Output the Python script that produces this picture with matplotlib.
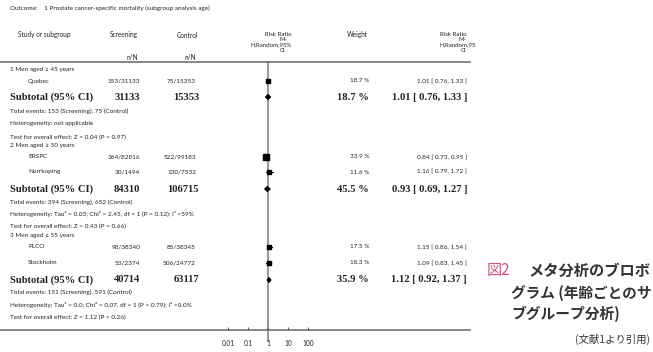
import matplotlib
matplotlib.use("Agg")
import matplotlib.pyplot as plt
import numpy as np
from matplotlib.transforms import Bbox, TransformedBbox

# ---------------- data ----------------
outcome = "Outcome:    1 Prostate cancer-specific mortality (subgroup analysis age)"
group_titles = ["1 Men aged \u2265 45 years", "2 Men aged \u2265 50 years", "3 Men aged \u2265 55 years"]
study_names = [["Quebec"], ["ERSPC", "Norrkoping"], ["PLCO", "Stockholm"]]
scr_events = [[153], [364, 30], [98, 53]]
scr_total = [[31133], [82816, 1494], [38340, 2374]]
ctl_events = [[75], [522, 130], [85, 506]]
ctl_total = [[15353], [99183, 7532], [38345, 24772]]
weights = [[18.7], [33.9, 11.6], [17.5, 18.3]]
rr = [[1.01], [0.84, 1.16], [1.15, 1.09]]
rr_lo = [[0.76], [0.73, 0.79], [0.86, 0.83]]
rr_hi = [[1.33], [0.95, 1.72], [1.54, 1.45]]
sub_scr_total = [31133, 84310, 40714]
sub_ctl_total = [15353, 106715, 63117]
sub_weight = [18.7, 45.5, 35.9]
sub_rr = [1.01, 0.93, 1.12]
sub_lo = [0.76, 0.69, 0.92]
sub_hi = [1.33, 1.27, 1.37]
sub_scr_events = [153, 394, 151]
sub_ctl_events = [75, 652, 591]
heterogeneity = ["Heterogeneity: not applicable",
                 "Heterogeneity: Tau\u00b2 = 0.03; Chi\u00b2 = 2.45, df = 1 (P = 0.12); I\u00b2 =59%",
                 "Heterogeneity: Tau\u00b2 = 0.0; Chi\u00b2 = 0.07, df = 1 (P = 0.79); I\u00b2 =0.0%"]
overall = ["Test for overall effect: Z = 0.04 (P = 0.97)",
           "Test for overall effect: Z = 0.43 (P = 0.66)",
           "Test for overall effect: Z = 1.12 (P = 0.26)"]
axis_ticks = [0.01, 0.1, 1, 10, 100]
axis_tick_labels = ["0.01", "0.1", "1", "10", "100"]
caption_label = "図2"
caption_lines = ["メタ分析のブロボ", "グラム (年齢ごとのサ", "ブグループ分析)"]
source_note = "(文献1より引用)"

# ---------------- layout ----------------
W, H = 653, 352
fig = plt.figure(figsize=(W / 100, H / 100), dpi=100)
ax = fig.add_axes([0, 0, 1, 1])
ax.set_xlim(0, W)
ax.set_ylim(H, 0)
ax.axis("off")

SANS = "Lato"
SERIF = "Liberation Serif"
TXT = "#222222"
fs_small = 4.6
fs_head = 4.7
fs_bold = 7.6

def t(x, y, s, ha="left", fs=fs_small, fam=SANS, weight="normal", **kw):
    return ax.text(x, y, s, ha=ha, va="center", fontsize=fs, family=fam,
                   weight=weight, color=kw.pop("color", TXT), **kw)

t(10, 8, outcome)
t(18, 35, "Study or subgroup", fs=fs_head)
t(138, 35, "Screening", ha="right", fs=fs_head)
t(198, 35, "Control", ha="right", fs=fs_head)
t(138, 57, "n/N", ha="right", fs=fs_head)
t(196, 57, "n/N", ha="right", fs=fs_head)
t(368, 35, "Weight", ha="right", fs=fs_head)
# left RR header
hdr_y = [34, 39.5, 45, 50.5]
fs_rr = 4.4
t(292, hdr_y[0], "Risk Ratio", ha="right", fs=fs_rr)
t(283, hdr_y[1], "M-", ha="center", fs=fs_rr)
t(292, hdr_y[2], "H,Random,95%", ha="right", fs=fs_rr)
t(283, hdr_y[3], "CI", ha="center", fs=fs_rr)
# right RR header (clipped at the right)
clipbox = TransformedBbox(Bbox([[0, 0], [475, H]]), ax.transData)
t(467, hdr_y[0], "Risk Ratio", ha="right", fs=fs_rr)
t(466, hdr_y[1], "M-", ha="right", fs=fs_rr)
h = t(439, hdr_y[2], "H,Random,95%", ha="left", fs=fs_rr)
h.set_clip_box(clipbox)
h.set_clip_on(True)
t(466, hdr_y[3], "CI", ha="right", fs=fs_rr)

# forest axes: x in log scale (20 px per decade, 1 at x=268), y in pixels
x_left, x_right, y_top, y_axis = 0, 470, 62, 330
x_one = 268
dec = 20.0
fax = fig.add_axes([x_left / W, (H - y_axis) / H, (x_right - x_left) / W, (y_axis - y_top) / H])
fax.set_xscale("log")
fax.set_xlim(10 ** ((x_left - x_one) / dec), 10 ** ((x_right - x_one) / dec))
fax.set_ylim(y_axis, y_top)
fax.patch.set_visible(False)
for s in ["left", "right"]:
    fax.spines[s].set_visible(False)
for s in ["top", "bottom"]:
    fax.spines[s].set_color("#666666")
    fax.spines[s].set_linewidth(1.1)
fax.set_yticks([])
fax.set_xticks(axis_ticks)
fax.set_xticklabels(axis_tick_labels, fontsize=fs_head, family=SANS, color=TXT)
fax.xaxis.set_minor_locator(matplotlib.ticker.NullLocator())
fax.tick_params(axis="x", direction="in", length=2.5, width=0.7, color="#555555", pad=7)
fax.plot([1, 1], [y_top, 341], color="#9a9a9a", lw=1.5, clip_on=False, zorder=1)

group_y = [
    dict(title=70, studies=[81], sub=97, tot=111, het=124, test=137),
    dict(title=146, studies=[157, 172], sub=189, tot=202, het=214, test=226),
    dict(title=236, studies=[247, 263], sub=280, tot=292, het=305, test=317),
]

for g in range(3):
    ly = group_y[g]
    t(10, ly["title"], group_titles[g])
    for i, name in enumerate(study_names[g]):
        y = ly["studies"][i]
        t(28, y, name)
        t(140, y, f"{scr_events[g][i]}/{scr_total[g][i]}", ha="right")
        t(196, y, f"{ctl_events[g][i]}/{ctl_total[g][i]}", ha="right")
        t(369, y, f"{weights[g][i]:.1f} %", ha="right")
        t(467, y, f"{rr[g][i]:.2f} [ {rr_lo[g][i]:.2f}, {rr_hi[g][i]:.2f} ]", ha="right")
        fax.plot([rr_lo[g][i], rr_hi[g][i]], [y, y], color="black", lw=0.8, zorder=3)
        ms = 2.2 + 0.06 * weights[g][i]
        fax.plot([rr[g][i]], [y], marker="s", ms=ms, color="black", mec="black", zorder=4)
    y = ly["sub"]
    t(10, y, "Subtotal (95% CI)", fs=fs_bold, fam=SERIF, weight="bold")
    t(140, y, f"{sub_scr_total[g]}", ha="right", fs=fs_bold, fam=SERIF, weight="bold")
    t(199, y, f"{sub_ctl_total[g]}", ha="right", fs=fs_bold, fam=SERIF, weight="bold")
    t(369, y, f"{sub_weight[g]:.1f} %", ha="right", fs=fs_bold, fam=SERIF, weight="bold")
    t(467, y, f"{sub_rr[g]:.2f} [ {sub_lo[g]:.2f}, {sub_hi[g]:.2f} ]", ha="right",
      fs=fs_bold, fam=SERIF, weight="bold")
    dh = 2.3
    fax.fill([sub_lo[g], sub_rr[g], sub_hi[g], sub_rr[g]], [y, y - dh, y, y + dh],
             color="black", zorder=4)
    t(10, ly["tot"], f"Total events: {sub_scr_events[g]} (Screening), {sub_ctl_events[g]} (Control)")
    t(10, ly["het"], heterogeneity[g])
    t(10, ly["test"], overall[g])

# caption
CJK = ["Noto Sans CJK JP", "DejaVu Sans"]
fs_cap = 10.6
ax.text(487, 271, caption_label, ha="left", va="center", fontsize=fs_cap + 0.3, family=CJK,
        color="#d0507a")
ax.text(528, 271, caption_lines[0], ha="left", va="center", fontsize=fs_cap + 0.4, family=CJK,
        weight="bold", color="#333333")
cap2 = ax.text(511, 293, caption_lines[1], ha="left", va="center", fontsize=fs_cap, family=CJK,
               weight="bold", color="#333333")
ax.text(511, 314, caption_lines[2], ha="left", va="center", fontsize=fs_cap, family=CJK,
        weight="bold", color="#333333")
ax.text(650, 339, source_note, ha="right", va="center", fontsize=7.5, family=CJK,
        color="#333333")

# make sure the second caption line fits inside the figure
fig.canvas.draw()
bb = cap2.get_window_extent()
if bb.x1 > W - 1:
    cap2.set_fontsize(fs_cap * (W - 1 - bb.x0) / (bb.x1 - bb.x0))

fig.savefig("out.png", dpi=100)
